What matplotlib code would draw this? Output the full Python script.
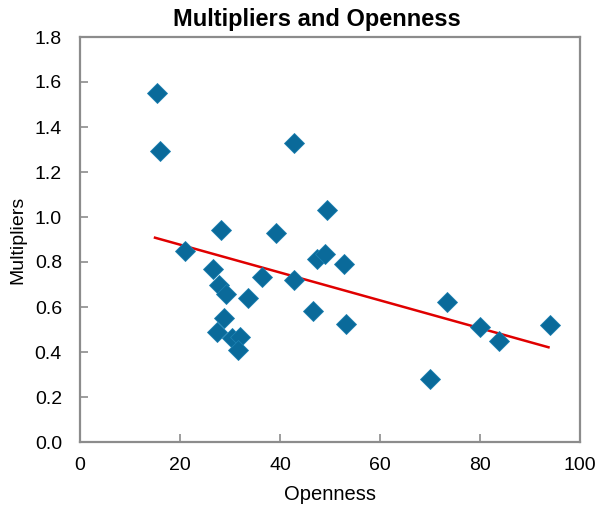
import matplotlib
matplotlib.use("Agg")
import matplotlib.pyplot as plt

# Openness (x) and fiscal multipliers (y)
openness = [15.3, 16.0, 42.8, 21.0, 28.1, 39.1, 49.3, 26.5, 27.8, 29.1,
            36.3, 33.5, 42.7, 47.3, 49.0, 52.7, 46.5, 53.1, 28.7, 27.3,
            30.3, 32.0, 31.5, 73.3, 80.0, 83.7, 94.0, 69.9]
multipliers = [1.55, 1.293, 1.329, 0.851, 0.941, 0.928, 1.031, 0.767, 0.70, 0.658,
               0.732, 0.640, 0.72, 0.812, 0.834, 0.791, 0.582, 0.526, 0.553, 0.491,
               0.461, 0.465, 0.409, 0.621, 0.511, 0.449, 0.520, 0.281]

# linear trend endpoints
trend_x = [15.0, 93.7]
trend_y = [0.908, 0.421]

x_ticks = [0, 20, 40, 60, 80, 100]
y_ticks = [0.0, 0.2, 0.4, 0.6, 0.8, 1.0, 1.2, 1.4, 1.6, 1.8]

plt.rcParams["font.family"] = ["Liberation Sans", "DejaVu Sans"]

fig = plt.figure(figsize=(6.01, 5.11), dpi=100)
ax = fig.add_axes([80 / 601, 69 / 511, 500 / 601, 405 / 511])

ax.plot(trend_x, trend_y, color="#e00000", lw=1.8, zorder=2)
ax.plot(openness, multipliers, linestyle="none", marker="D", ms=10,
        color="#0a6a9a", markeredgecolor="#1b7fb0", markeredgewidth=0.6, zorder=3)

ax.set_xlim(0, 100)
ax.set_ylim(0, 1.8)
ax.set_xticks(x_ticks)
ax.set_yticks(y_ticks)
ax.set_yticklabels([f"{v:.1f}" for v in y_ticks])
ax.tick_params(direction="in", length=6, width=1.2, color="#8c8c8c",
               labelsize=14)
ax.tick_params(axis="y", pad=13)
ax.tick_params(axis="x", pad=11)
for s in ax.spines.values():
    s.set_color("#8c8c8c")
    s.set_linewidth(1.6)

ax.set_title("Multipliers and Openness", fontsize=17, fontweight="bold",
             pad=8, x=0.474)
ax.set_xlabel("Openness", fontsize=14.5, labelpad=8)
ax.set_ylabel("Multipliers", fontsize=14, labelpad=6)

fig.savefig("out.png", dpi=100)
